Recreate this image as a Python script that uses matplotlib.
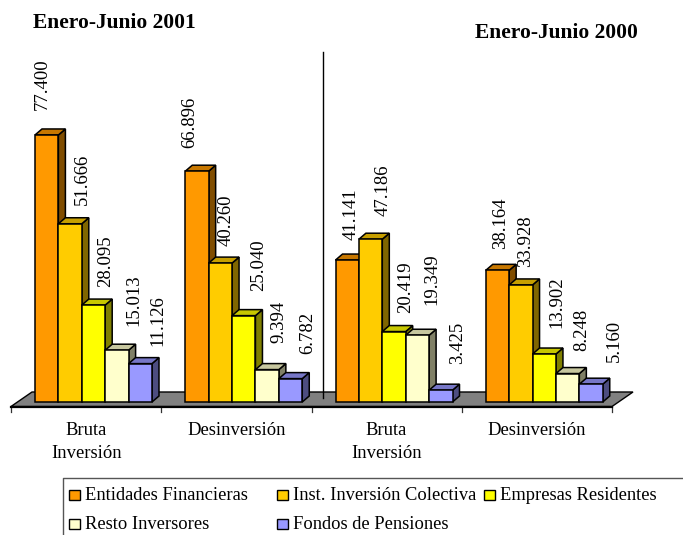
#!/usr/bin/env python
# -*- coding:utf-8 -*-

import matplotlib
matplotlib.use('Agg')
import matplotlib.pyplot as plt
from matplotlib.patches import Polygon, Rectangle

categories = ['Bruta\nInversión', 'Desinversión', 'Bruta\nInversión', 'Desinversión']
series_names = ['Entidades Financieras', 'Inst. Inversión Colectiva', 'Empresas Residentes',
                'Resto Inversores', 'Fondos de Pensiones']
entidades = [77400, 66896, 41141, 38164]
colectiva = [51666, 40260, 47186, 33928]
empresas = [28095, 25040, 20419, 13902]
resto = [15013, 9394, 19349, 8248]
pensiones = [11126, 6782, 3425, 5160]
all_values = [entidades, colectiva, empresas, resto, pensiones]

colors = ['#FF9900', '#FFCC00', '#FFFF00', '#FFFFCC', '#9999FF']

# desplazamiento de cada etiqueta respecto a su barra, en pixeles (serie x categoria)
label_dx = [[-4, -7, 4, 3.5], [12, 6, 13, 5], [12.5, 15, 12, 13], [17, 12, 15, 14], [18, 17, 17, 23]]
label_dy = [[25, 23, 20, 21], [19, 17, 23, 18], [18, 25, 19, 26], [24, 27, 30, 22.5], [18, 25, 26, 22]]

W, H = 683, 535
PX_X = 150.25   # pixels per category
PX_Y = 0.00345  # pixels per unit
X0, Y0 = 11, 402  # pixel of category edge 0 and value 0


def shade(c, f):
    r, g, b = matplotlib.colors.to_rgb(c)
    return (r * f, g * f, b * f)


plt.rcParams['font.family'] = ['Liberation Serif', 'DejaVu Serif']
fig = plt.figure(figsize=(W / 100, H / 100), dpi=100)
ax = fig.add_axes([0, 0, 1, 1])
ax.set_xlim(-X0 / PX_X, (W - X0) / PX_X)
ax.set_ylim(-(H - Y0) / PX_Y, Y0 / PX_Y)
ax.axis('off')

dx = 7 / PX_X
dy = 6 / PX_Y
bar_w = 23.4 / PX_X
start = 24 / PX_X

# suelo
floor_front = -4.5 / PX_Y
floor_back = 10 / PX_Y
ax.add_patch(Polygon([(0, floor_front), (4, floor_front), (4 + 21 / PX_X, floor_back), (21 / PX_X, floor_back)],
                     closed=True, fc='#808080', ec='black', lw=1.0, zorder=1))
ax.plot([0, 4], [floor_front, floor_front], color='black', lw=1.6, zorder=1.5)
for i in range(5):
    ax.plot([i, i], [floor_front, floor_front - 5 / PX_Y], color='#333333', lw=0.9, zorder=1)

z = 2
for c in range(4):
    for s in range(5):
        v = all_values[s][c]
        x = c + start + s * bar_w
        ec = 'black'
        ax.bar(x, v, width=bar_w, align='edge', color=colors[s], edgecolor=ec, linewidth=1.1, zorder=z + 0.2)
        ax.add_patch(Polygon([(x + bar_w, 0), (x + bar_w + dx, dy), (x + bar_w + dx, v + dy), (x + bar_w, v)],
                             closed=True, fc=shade(colors[s], 0.5), ec=ec, lw=1.1, zorder=z))
        ax.add_patch(Polygon([(x, v), (x + dx, v + dy), (x + bar_w + dx, v + dy), (x + bar_w, v)],
                             closed=True, fc=shade(colors[s], 0.78), ec=ec, lw=1.1, zorder=z + 0.1))
        # etiqueta
        ax.annotate(f'{v / 1000:.3f}', (x + bar_w / 2, v),
                    xytext=(label_dx[s][c] * 0.72, label_dy[s][c] * 0.72),
                    textcoords='offset points', rotation=90, ha='center', va='bottom',
                    fontsize=13.5, color='black', zorder=200)
        z += 1

for c, name in enumerate(categories):
    ax.text(c + 0.5, -(422 - Y0) / PX_Y, name, ha='center', va='top', fontsize=13.4,
            linespacing=1.45, zorder=200)

# linea separadora
ax.plot([(323 - X0) / PX_X] * 2, [(Y0 - 398) / PX_Y, (Y0 - 52) / PX_Y], color='black', lw=1.0, zorder=1.8)

fig.text(33 / W, 1 - 23.5 / H, 'Enero-Junio 2001', fontsize=15.5, fontweight='bold', ha='left', va='center')
fig.text(475 / W, 1 - 32.5 / H, 'Enero-Junio 2000', fontsize=15.5, fontweight='bold', ha='left', va='center')

# leyenda
fig.add_artist(plt.Line2D([63 / W, 63 / W, 1], [0, 1 - 478 / H, 1 - 478 / H], color='#555555', lw=1.0))
legend_pos = [(69, 494.5), (277, 494.5), (484, 494.5), (69, 523.5), (277, 523.5)]
for (px, py), col, name in zip(legend_pos, colors, series_names):
    fig.add_artist(Rectangle((px / W, 1 - (py + 5) / H), 11 / W, 10 / H, transform=fig.transFigure,
                             fc=col, ec='black', lw=1.0))
    fig.text((px + 16) / W, 1 - (py + 1) / H, name, fontsize=13.3, ha='left', va='center')

plt.savefig('out.png', dpi=100)
